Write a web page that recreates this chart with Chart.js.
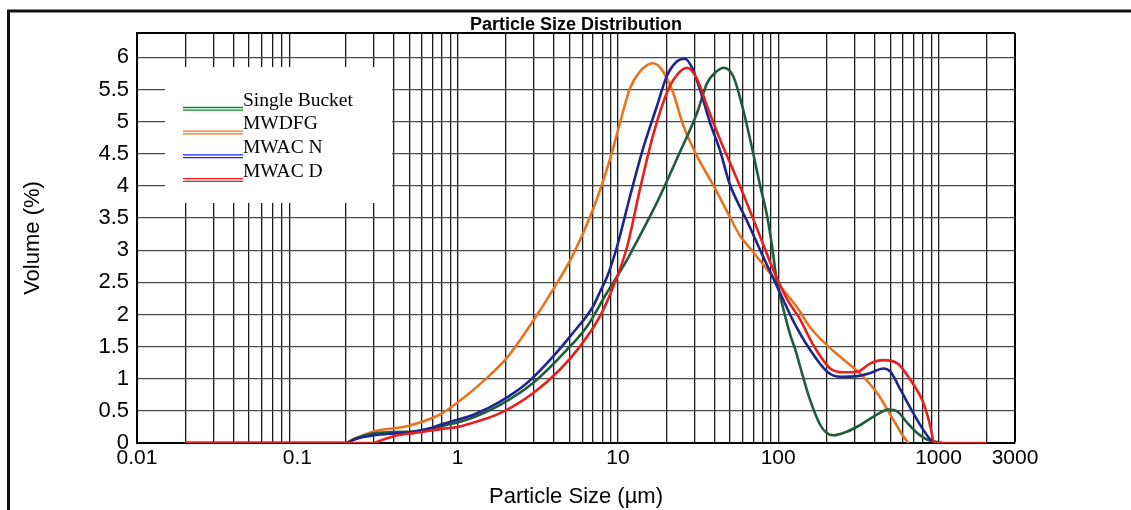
<!DOCTYPE html>
<html>
<head>
<meta charset="utf-8">
<script src="https://cdn.jsdelivr.net/npm/chart.js@4/dist/chart.umd.min.js"></script>
<style>
  html, body { margin: 0; padding: 0; background: #fff; }
  #wrap { position: relative; width: 1131px; height: 510px; }
</style>
</head>
<body>
<div id="wrap"><canvas id="psd"></canvas></div>
<script>
// values, [particle size µm, volume %]
const singleBucket = [[0.02,0],[0.2,0],[0.23,0.07],[0.3,0.15],[0.4,0.17],[0.52,0.18],[0.7,0.23],[0.85,0.28],[1,0.32],[1.14,0.36],
  [1.83,0.59],[2.94,0.93],[4.8,1.45],[6.4,1.81],[8.5,2.33],[11.4,2.85],[12.4,3.02],[17.5,3.74],[23.7,4.46],[31.2,5.14],
  [36,5.6],[41.6,5.79],[45.7,5.84],[52.3,5.71],[60.4,5.19],[69.8,4.51],[77.2,4.0],[85.3,3.53],[91.7,3.05],[97,2.6],
  [108,2.07],[119,1.68],[128,1.45],[137,1.19],[158,0.67],[183,0.28],[200,0.16],[221,0.12],[270,0.18],[325,0.28],
  [393,0.41],[487,0.52],[554,0.49],[640,0.31],[739,0.15],[853,0.05],[960,0.02],[1050,0]];
const mwdfg = [[0.02,0],[0.2,0],[0.22,0.05],[0.3,0.18],[0.48,0.26],[0.77,0.44],[1,0.63],[1.52,1.01],[2.02,1.32],[2.94,1.89],
  [3.92,2.38],[5.23,2.92],[6.98,3.63],[8.91,4.41],[10.3,4.98],[11.9,5.52],[13.7,5.78],[16.5,5.91],[18.8,5.81],[22.1,5.45],
  [25.5,4.95],[31.2,4.46],[39.2,4.02],[48,3.6],[57.9,3.22],[66.8,3.03],[85.3,2.7],[103,2.44],[132,2.1],[158,1.8],
  [202,1.52],[255,1.3],[325,1.08],[416,0.77],[523,0.36],[604,0.1],[649,0]];
const mwacN = [[0.02,0],[0.2,0],[0.23,0.06],[0.3,0.12],[0.4,0.15],[0.52,0.17],[0.7,0.24],[0.81,0.3],[1,0.36],[1.31,0.46],
  [1.83,0.64],[2.7,0.93],[3.76,1.29],[5.23,1.71],[6.98,2.12],[7.72,2.35],[8.6,2.6],[9.86,3.05],[11.9,3.84],[14.3,4.57],
  [17.5,5.24],[20.2,5.71],[23.4,5.94],[26.2,5.98],[29,5.84],[32.5,5.5],[37.6,4.98],[43.4,4.55],[49.5,4.05],[64,3.45],
  [80.5,2.9],[103,2.33],[124,1.9],[158,1.45],[202,1.11],[244,1.03],[312,1.04],[376,1.09],[453,1.16],[501,1.11],
  [579,0.83],[698,0.46],[806,0.2],[917,0.02],[958,0]];
const mwacD = [[0.02,0],[0.29,0],[0.35,0.06],[0.42,0.12],[0.52,0.15],[0.8,0.22],[1,0.25],[1.19,0.3],[1.83,0.46],[2.94,0.77],
  [4.34,1.14],[5.79,1.5],[7.72,1.97],[9.31,2.42],[11.4,3.05],[13.7,3.94],[16.5,4.77],[20.2,5.45],[23.4,5.73],[27,5.84],
  [31.2,5.66],[36,5.24],[43.4,4.72],[52.3,4.25],[60.4,3.88],[77.2,3.21],[93,2.7],[114,2.23],[135,1.95],[166,1.52],
  [211,1.16],[255,1.1],[312,1.11],[376,1.24],[453,1.29],[554,1.24],[668,0.98],[806,0.62],[891,0.25],[931,0.02],
  [960,0],[2000,0]];

const seriesNames = ['Single Bucket', 'MWDFG', 'MWAC N', 'MWAC D'];
const xTickLabels = [0.01, 0.1, 1, 10, 100, 1000, 3000];
const yTickValues = [0, 0.5, 1, 1.5, 2, 2.5, 3, 3.5, 4, 4.5, 5, 5.5, 6];
const xMin = 0.01, xMax = 3000, yMax = 6.38;

// grid positions: 1..9 in every decade, then the 2000 and 3000 lines
const xGridValues = [];
[0.01, 0.1, 1, 10, 100].forEach(d => {
  for (let m = 1; m <= 9; m++) xGridValues.push(+(d * m).toPrecision(6));
});
xGridValues.push(1000, 2000, 3000);

const curveColors = ['#1f5c3a', '#e8731f', '#1c2590', '#e8201c'];
const legendColors = ['#0d8a2c', '#ff6a14', '#1a1aff', '#ff1414'];

const near = (a, b) => Math.abs(a - b) <= Math.abs(b) * 1e-6;

const legendBox = {
  id: 'legendBox',
  beforeDatasetsDraw(chart) {
    const ctx = chart.ctx, a = chart.chartArea;
    const x0 = a.left + 28, y0 = a.top + 34;
    ctx.save();
    ctx.fillStyle = '#fff';
    ctx.fillRect(x0, y0, 227, 136);
    ctx.font = '19.5px "Liberation Serif", "Times New Roman", serif';
    ctx.textBaseline = 'alphabetic';
    seriesNames.forEach((name, i) => {
      const ly = y0 + 40.5 + i * 23.7;
      ctx.strokeStyle = legendColors[i];
      ctx.lineWidth = 1.3;
      ctx.beginPath();
      ctx.moveTo(x0 + 18, ly); ctx.lineTo(x0 + 78, ly);
      ctx.moveTo(x0 + 18, ly + 2.7); ctx.lineTo(x0 + 78, ly + 2.7);
      ctx.stroke();
      ctx.fillStyle = '#000';
      ctx.fillText(name, x0 + 78, ly - 2);
    });
    ctx.restore();
  }
};

// outer frame of the scanned figure (top and left edges)
const frame = {
  id: 'frame',
  afterDraw(chart) {
    const ctx = chart.ctx;
    ctx.save();
    ctx.strokeStyle = '#111';
    ctx.lineWidth = 3;
    ctx.beginPath();
    ctx.moveTo(8.5, 510); ctx.lineTo(8.5, 11); ctx.lineTo(1131, 11);
    ctx.stroke();
    ctx.restore();
  }
};

Chart.defaults.font.family = '"Liberation Sans", Arial, Helvetica, sans-serif';
Chart.defaults.color = '#000';

const series = [singleBucket, mwdfg, mwacN, mwacD];
const drawOrder = [2, 3, 1, 0];

new Chart(document.getElementById('psd'), {
  type: 'scatter',
  data: {
    datasets: series.map((pts, i) => ({
      label: seriesNames[i],
      data: pts.map(([x, y]) => ({ x, y })),
      showLine: true,
      borderColor: curveColors[i],
      backgroundColor: curveColors[i],
      borderWidth: 2.6,
      pointRadius: 0,
      cubicInterpolationMode: 'monotone',
      order: drawOrder[i]
    }))
  },
  options: {
    responsive: true,
    maintainAspectRatio: false,
    animation: false,
    layout: { padding: { left: 0, right: 116, top: 0, bottom: 0 } },
    plugins: {
      legend: { display: false },
      tooltip: { enabled: false },
      title: {
        display: true,
        text: 'Particle Size Distribution',
        fullSize: false,
        color: '#000',
        font: { size: 18, weight: 'bold', lineHeight: 1 },
        padding: { top: 16, bottom: -1 }
      }
    },
    scales: {
      x: {
        type: 'logarithmic',
        min: xMin,
        max: xMax,
        afterBuildTicks: s => { s.ticks = xGridValues.map(v => ({ value: v })); },
        afterFit: s => { s.height = 67; },
        ticks: {
          autoSkip: false,
          maxRotation: 0,
          padding: 3,
          font: { size: 21 },
          callback: v => {
            const m = xTickLabels.find(t => near(v, t));
            return m === undefined ? '' : String(m);
          }
        },
        grid: {
          drawTicks: false,
          color: c => {
            const v = c.tick ? c.tick.value : 0;
            if (near(v, 0.1)) return 'rgba(0,0,0,0)';
            return near(v, xMax) ? '#000' : '#1a1a1a';
          },
          lineWidth: c => (c.tick && near(c.tick.value, xMax) ? 2 : 1.3)
        },
        border: { color: '#000', width: 2 },
        title: {
          display: true,
          text: 'Particle Size (µm)',
          font: { size: 22 },
          padding: { top: 0, bottom: 0 }
        }
      },
      y: {
        min: 0,
        max: yMax,
        afterBuildTicks: s => { s.ticks = yTickValues.concat([yMax]).map(v => ({ value: v })); },
        afterFit: s => { s.width = 137; },
        ticks: {
          autoSkip: false,
          padding: 8,
          font: { size: 22 },
          callback: v => (v === yMax ? '' : String(v))
        },
        grid: {
          drawTicks: false,
          color: c => (c.tick && c.tick.value === yMax ? '#000' : '#4a4a4a'),
          lineWidth: c => (c.tick && c.tick.value === yMax ? 2 : 1.3)
        },
        border: { color: '#000', width: 2 },
        title: {
          display: true,
          text: 'Volume (%)',
          font: { size: 22 },
          padding: { top: 20, bottom: 0 }
        }
      }
    }
  },
  plugins: [legendBox, frame]
});
</script>
</body>
</html>
